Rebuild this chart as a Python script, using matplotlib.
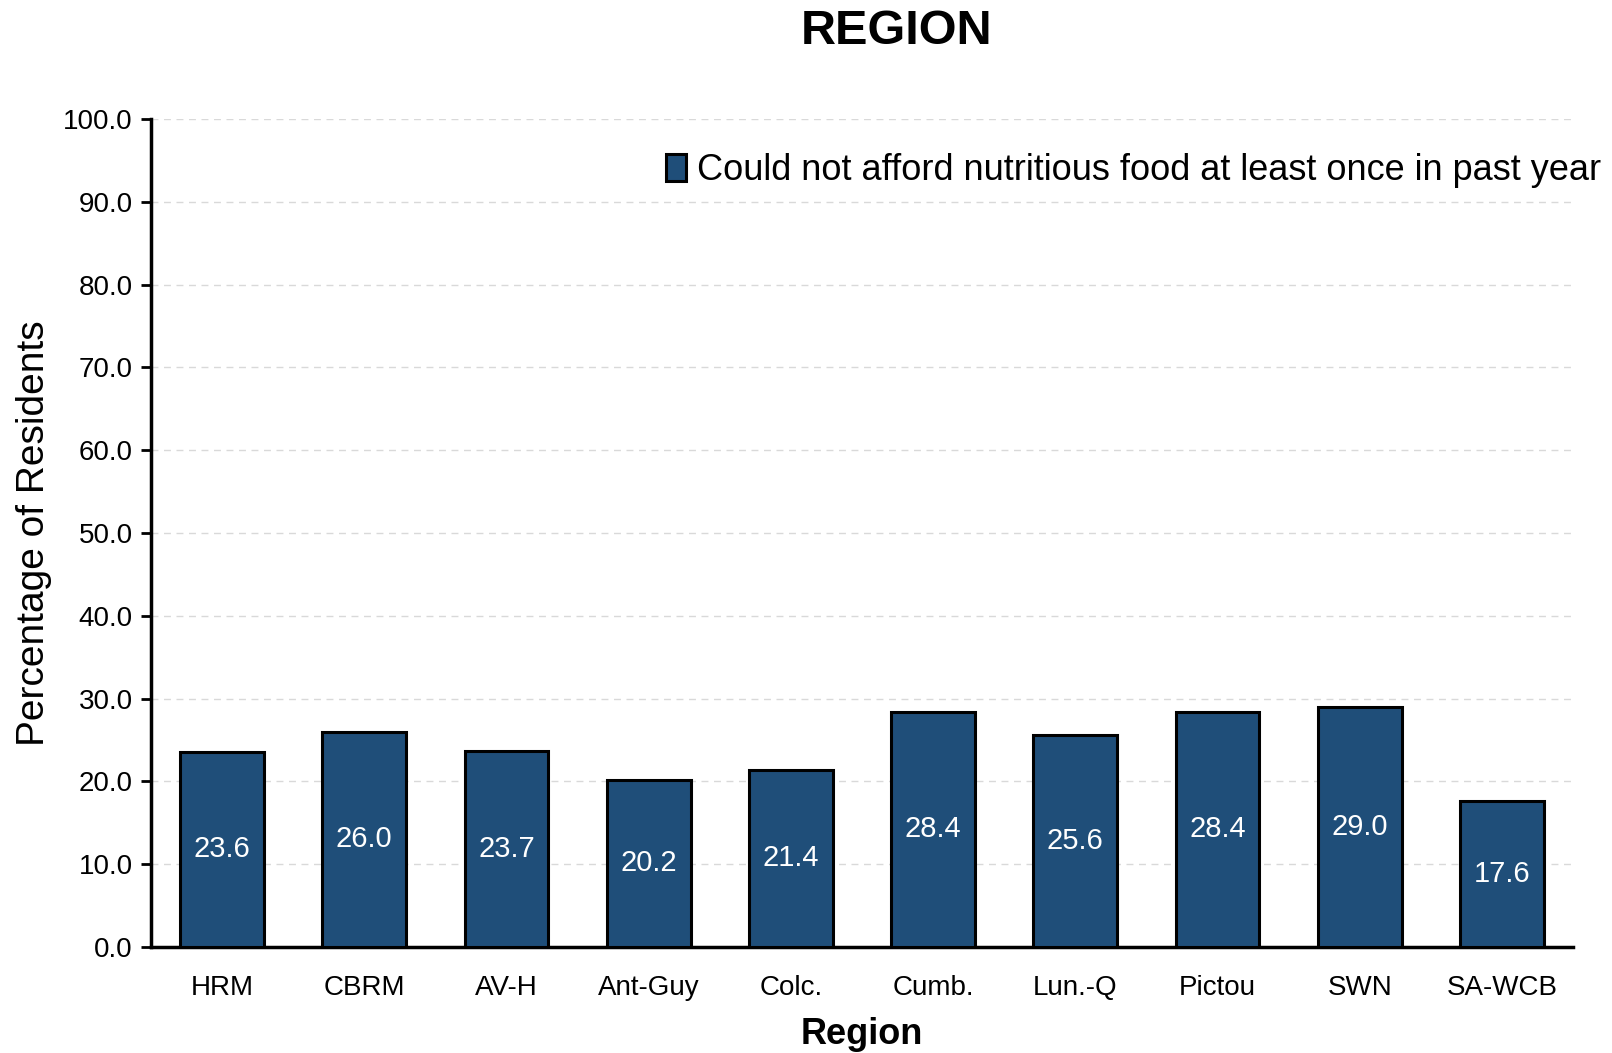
import numpy as np
import matplotlib.pyplot as plt
import matplotlib as mpl

mpl.rc('font', family=['Liberation Sans', 'DejaVu Sans'])

regions = ['HRM', 'CBRM', 'AV-H', 'Ant-Guy', 'Colc.', 'Cumb.', 'Lun.-Q', 'Pictou', 'SWN', 'SA-WCB']
values = [23.6, 26.0, 23.7, 20.2, 21.4, 28.4, 25.6, 28.4, 29.0, 17.6]
series_label = 'Could not afford nutritious food at least once in past year'

bar_color = '#1f4e79'

fig = plt.figure(figsize=(16.12, 10.53), dpi=100)
ax = fig.add_axes([151/1612, 1 - 947/1053, (1573-151)/1612, (947-119)/1053])

x = np.arange(len(regions))
bars = ax.bar(x, values, width=0.59, color=bar_color, edgecolor='black',
              linewidth=2.2, label=series_label, zorder=3)

# value labels sit at half the bar height
for xi, v in zip(x, values):
    ax.text(xi, v / 2, f'{v:.1f}', ha='center', va='center', color='white',
            fontsize=21, zorder=4)

ax.set_xlim(-0.5, len(regions) - 0.5)
ax.set_ylim(0, 100)
ax.set_yticks(np.arange(0, 101, 10))
ax.set_yticklabels([f'{t:.1f}' for t in np.arange(0, 101, 10)], fontsize=20)
ax.set_xticks(x)
ax.set_xticklabels(regions, fontsize=20)
ax.tick_params(axis='x', length=0, pad=20)
ax.tick_params(axis='y', length=7, width=2, pad=6)

ax.grid(axis='y', linestyle=(0, (5, 4)), color='#d9d9d9', linewidth=1, zorder=0)
for s in ['top', 'right']:
    ax.spines[s].set_visible(False)
for s in ['left', 'bottom']:
    ax.spines[s].set_linewidth(2.5)

ax.set_ylabel('Percentage of Residents', fontsize=28, labelpad=8)
ax.set_xlabel('Region', fontsize=26, fontweight='bold', labelpad=12)

leg = ax.legend(loc='upper right', frameon=False, fontsize=26, handlelength=0.55,
                handleheight=0.75, handletextpad=0.3, borderaxespad=0.2,
                bbox_to_anchor=(1.035, 0.985))

fig.text(897/1612, 1 - 31/1053, 'REGION', ha='center', va='center',
         fontsize=35, fontweight='bold')

fig.savefig('out.png', dpi=100)
